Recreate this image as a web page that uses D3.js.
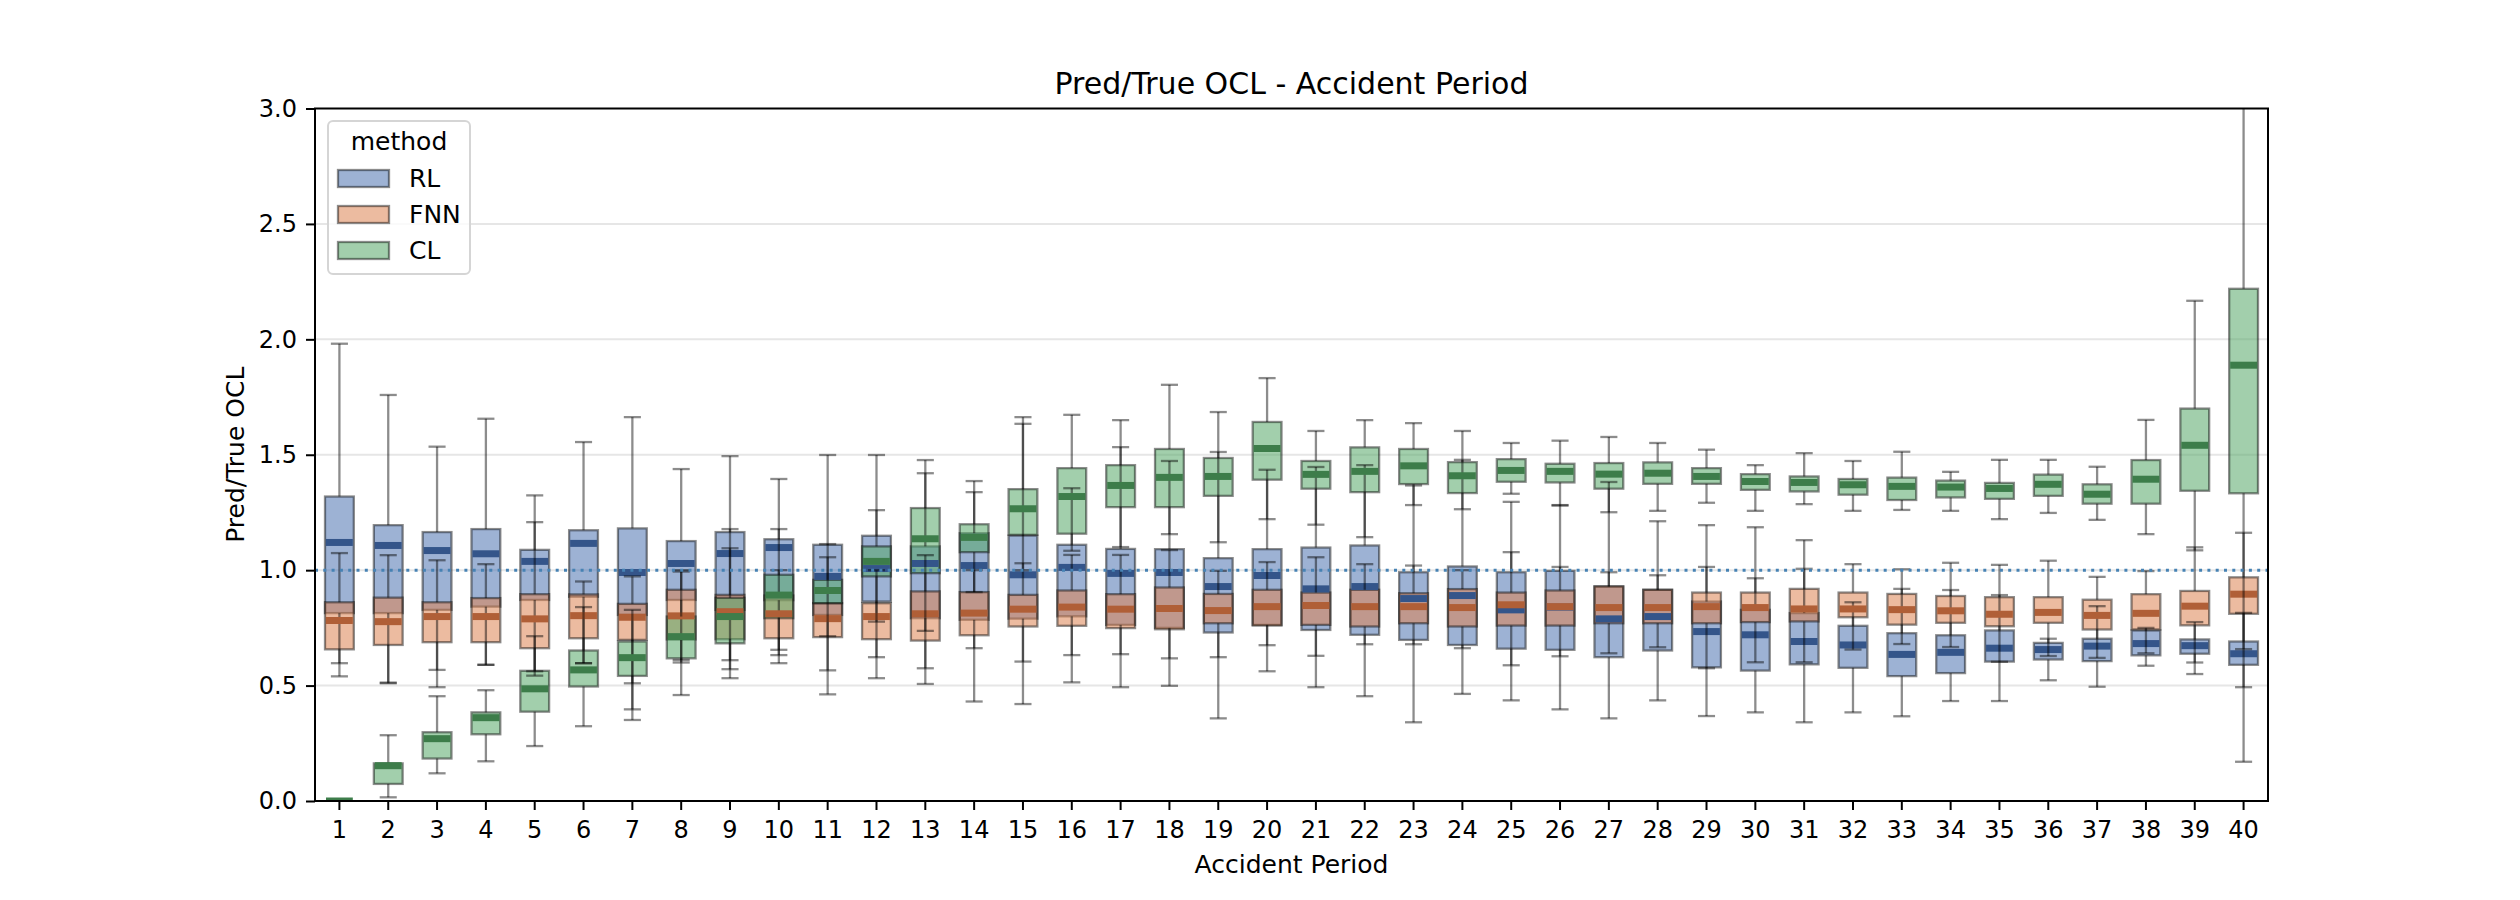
<!DOCTYPE html>
<html><head><meta charset="utf-8">
<script src="https://cdn.jsdelivr.net/npm/d3@7"></script>
<style>body{margin:0;background:#fff} text{font-family:"DejaVu Sans",sans-serif;fill:#000}</style>
</head><body><svg id="chart" width="2520" height="900"></svg>
<script>
const periods = [1,2,3,4,5,6,7,8,9,10,11,12,13,14,15,16,17,18,19,20,21,22,23,24,25,26,27,28,29,30,31,32,33,34,35,36,37,38,39,40];
const yTicks = [0.0,0.5,1.0,1.5,2.0,2.5,3.0];
const methodNames = ["RL","FNN","CL"];

// RL
const rlLow  = [0.540,0.513,0.493,0.590,0.543,0.597,0.397,0.600,0.532,0.597,0.462,0.532,0.507,0.431,0.420,0.514,0.493,0.499,0.358,0.562,0.493,0.454,0.341,0.464,0.436,0.397,0.358,0.436,0.368,0.384,0.341,0.384,0.367,0.433,0.433,0.523,0.495,0.586,0.550,0.493];
const rlQ1   = [0.814,0.814,0.828,0.842,0.871,0.885,0.806,0.871,0.828,0.870,0.806,0.864,0.792,0.785,0.790,0.800,0.763,0.750,0.730,0.763,0.741,0.720,0.698,0.676,0.660,0.655,0.623,0.652,0.579,0.565,0.592,0.577,0.541,0.554,0.604,0.613,0.606,0.631,0.638,0.590];
const rlMed  = [1.120,1.107,1.085,1.071,1.038,1.116,0.990,1.029,1.072,1.098,0.973,1.007,1.029,1.020,0.980,1.012,0.986,0.990,0.929,0.977,0.919,0.929,0.877,0.890,0.828,0.840,0.789,0.799,0.734,0.720,0.691,0.676,0.635,0.644,0.662,0.656,0.671,0.682,0.673,0.638];
const rlQ3   = [1.319,1.195,1.165,1.178,1.088,1.173,1.181,1.126,1.165,1.134,1.110,1.149,1.103,1.160,1.150,1.110,1.092,1.091,1.052,1.091,1.098,1.107,0.991,1.016,0.991,0.997,0.929,0.915,0.864,0.828,0.814,0.759,0.727,0.718,0.739,0.685,0.703,0.739,0.700,0.691];
const rlHigh = [1.981,1.759,1.535,1.656,1.324,1.555,1.663,1.438,1.494,1.395,1.499,1.499,1.420,1.386,1.634,1.355,1.533,1.473,1.512,1.435,1.447,1.455,1.367,1.478,1.296,1.282,1.382,1.212,1.195,1.186,1.130,0.861,0.919,0.914,0.892,0.703,0.844,0.750,0.775,0.815];

// FNN
const fnnLow  = [0.597,0.510,0.568,0.590,0.562,0.597,0.510,0.611,0.571,0.632,0.566,0.623,0.575,0.662,0.604,0.632,0.636,0.618,0.623,0.675,0.629,0.679,0.679,0.662,0.588,0.627,0.640,0.666,0.575,0.601,0.601,0.656,0.680,0.667,0.603,0.628,0.620,0.640,0.600,0.658];
const fnnQ1   = [0.657,0.676,0.688,0.688,0.662,0.705,0.698,0.700,0.701,0.705,0.710,0.701,0.695,0.718,0.756,0.759,0.749,0.744,0.770,0.760,0.763,0.756,0.770,0.756,0.760,0.760,0.770,0.770,0.770,0.775,0.778,0.796,0.764,0.772,0.757,0.772,0.743,0.743,0.761,0.811];
const fnnMed  = [0.782,0.777,0.799,0.799,0.789,0.803,0.796,0.802,0.820,0.811,0.790,0.799,0.811,0.814,0.831,0.840,0.831,0.834,0.825,0.842,0.847,0.842,0.842,0.838,0.850,0.842,0.838,0.838,0.842,0.838,0.832,0.832,0.829,0.824,0.809,0.817,0.804,0.813,0.844,0.896];
const fnnQ3   = [0.861,0.881,0.861,0.879,0.896,0.895,0.854,0.915,0.893,0.890,0.857,0.857,0.908,0.905,0.893,0.912,0.896,0.925,0.897,0.915,0.903,0.915,0.900,0.918,0.903,0.912,0.930,0.915,0.903,0.903,0.919,0.903,0.897,0.888,0.883,0.883,0.872,0.896,0.910,0.969];
const fnnHigh = [1.074,1.065,1.043,1.026,1.208,0.951,0.973,1.000,1.178,1.000,1.113,1.000,1.065,1.000,1.030,1.066,1.066,1.087,0.997,1.035,1.056,1.026,1.020,1.000,1.078,1.014,0.991,0.978,1.014,0.965,1.006,1.026,1.004,1.032,1.023,1.041,0.971,0.996,1.099,1.162];

// CL
const clLow  = [0.000,0.016,0.120,0.172,0.238,0.324,0.351,0.459,0.610,0.655,0.714,0.777,0.737,0.905,1.000,1.084,1.100,1.156,1.121,1.221,1.197,1.143,1.282,1.264,1.331,1.280,1.251,1.257,1.292,1.257,1.286,1.257,1.261,1.257,1.221,1.248,1.218,1.156,1.086,0.170];
const clQ1   = [0.000,0.074,0.184,0.289,0.387,0.496,0.542,0.618,0.683,0.792,0.857,0.973,0.987,1.078,1.153,1.158,1.273,1.273,1.322,1.392,1.353,1.338,1.373,1.334,1.383,1.380,1.353,1.374,1.374,1.348,1.341,1.327,1.304,1.315,1.309,1.322,1.288,1.288,1.344,1.333];
const clMed  = [0.000,0.153,0.270,0.361,0.486,0.568,0.621,0.712,0.799,0.892,0.912,1.038,1.136,1.142,1.266,1.319,1.367,1.402,1.406,1.527,1.415,1.428,1.452,1.409,1.432,1.428,1.416,1.420,1.406,1.384,1.380,1.370,1.363,1.360,1.354,1.372,1.329,1.394,1.541,1.888];
const clQ3   = [0.000,0.163,0.298,0.384,0.564,0.652,0.691,0.799,0.880,0.980,0.958,1.103,1.269,1.199,1.351,1.442,1.455,1.525,1.486,1.642,1.473,1.532,1.525,1.468,1.481,1.461,1.464,1.467,1.442,1.416,1.406,1.395,1.401,1.388,1.378,1.414,1.372,1.477,1.700,2.219];
const clHigh = [0.000,0.285,0.454,0.480,0.714,0.840,0.828,0.994,1.095,1.178,1.056,1.260,1.477,1.338,1.663,1.673,1.650,1.803,1.685,1.832,1.603,1.650,1.637,1.603,1.551,1.561,1.577,1.551,1.522,1.455,1.507,1.473,1.513,1.426,1.478,1.478,1.448,1.651,2.167,3.200];

const fills   = ["#4c72b0","#dd8452","#55a868"];
const medCols = ["#34558a","#b05f37","#3d7d4a"];

const stats = [
  [rlLow, rlQ1, rlMed, rlQ3, rlHigh],
  [fnnLow, fnnQ1, fnnMed, fnnQ3, fnnHigh],
  [clLow, clQ1, clMed, clQ3, clHigh]
];
const methods = methodNames.map((name,i)=>({
  name, fill: fills[i], med: medCols[i],
  rows: periods.map((p,j)=>({p, low:stats[i][0][j], q1:stats[i][1][j], med:stats[i][2][j], q3:stats[i][3][j], high:stats[i][4][j]}))
}));

const W=2520, H=900;
const L=315, R=2268, T=108.5, B=801;
const svg = d3.select("#chart");
svg.append("rect").attr("width",W).attr("height",H).attr("fill","#fff");

const x = d3.scaleBand().domain(periods).range([L,R]).padding(0);
const y = d3.scaleLinear().domain([0,3]).range([B,T]);
const bw = x.bandwidth()*0.59;
const cw = x.bandwidth()*0.35;
const cx = p => x(p) + x.bandwidth()/2;

svg.append("defs").append("clipPath").attr("id","clip")
  .append("rect").attr("x",L).attr("y",T).attr("width",R-L).attr("height",B-T);

// grid
svg.append("g").selectAll("line").data(yTicks.filter(d=>d>0&&d<3)).join("line")
  .attr("x1",L).attr("x2",R).attr("y1",d=>y(d)).attr("y2",d=>y(d))
  .attr("stroke","#e6e6e6").attr("stroke-width",2);

const plot = svg.append("g").attr("clip-path","url(#clip)");
const EDGE = "#000", EOP = 0.45, LW = 2.3;

// boxes (patches first)
methods.forEach(m=>{
  plot.append("g").selectAll("rect").data(m.rows).join("rect")
    .attr("x",d=>cx(d.p)-bw/2).attr("width",bw)
    .attr("y",d=>y(d.q3)).attr("height",d=>Math.max(0,y(d.q1)-y(d.q3)))
    .attr("fill",m.fill).attr("fill-opacity",0.55)
    .attr("stroke",EDGE).attr("stroke-opacity",EOP).attr("stroke-width",LW);
});
// lines
methods.forEach(m=>{
  const g = plot.append("g");
  g.selectAll("line.wh").data(m.rows).join("line").attr("class","wh")
    .attr("x1",d=>cx(d.p)).attr("x2",d=>cx(d.p)).attr("y1",d=>y(d.q3)).attr("y2",d=>y(d.high))
    .attr("stroke",EDGE).attr("stroke-opacity",EOP).attr("stroke-width",LW);
  g.selectAll("line.wl").data(m.rows).join("line").attr("class","wl")
    .attr("x1",d=>cx(d.p)).attr("x2",d=>cx(d.p)).attr("y1",d=>y(d.q1)).attr("y2",d=>y(d.low))
    .attr("stroke",EDGE).attr("stroke-opacity",EOP).attr("stroke-width",LW);
  g.selectAll("line.ch").data(m.rows).join("line").attr("class","ch")
    .attr("x1",d=>cx(d.p)-cw/2).attr("x2",d=>cx(d.p)+cw/2).attr("y1",d=>y(d.high)).attr("y2",d=>y(d.high))
    .attr("stroke",EDGE).attr("stroke-opacity",EOP).attr("stroke-width",LW);
  g.selectAll("line.cl").data(m.rows).join("line").attr("class","cl")
    .attr("x1",d=>cx(d.p)-cw/2).attr("x2",d=>cx(d.p)+cw/2).attr("y1",d=>y(d.low)).attr("y2",d=>y(d.low))
    .attr("stroke",EDGE).attr("stroke-opacity",EOP).attr("stroke-width",LW);
  g.selectAll("line.md").data(m.rows).join("line").attr("class","md")
    .attr("x1",d=>cx(d.p)-bw/2+1).attr("x2",d=>cx(d.p)+bw/2-1).attr("y1",d=>y(d.med)).attr("y2",d=>y(d.med))
    .attr("stroke",m.med).attr("stroke-width",7);
});

// reference line at 1
svg.append("line").attr("x1",L).attr("x2",R).attr("y1",y(1)).attr("y2",y(1))
  .attr("stroke","#4682b4").attr("stroke-width",3).attr("stroke-dasharray","3 5.3");

// axes
const ya = svg.append("g").attr("transform",`translate(${L},0)`)
  .call(d3.axisLeft(y).tickValues(yTicks).tickFormat(d3.format(".1f")).tickSize(9).tickPadding(9));
const xa = svg.append("g").attr("transform",`translate(0,${B})`)
  .call(d3.axisBottom(x).tickSize(9).tickPadding(11));
[ya,xa].forEach(a=>{
  a.select(".domain").remove();
  a.selectAll(".tick line").attr("stroke","#000").attr("stroke-width",2);
  a.selectAll(".tick text").style("font-size","24px").style("font-family","DejaVu Sans").attr("fill","#000");
});

// spines
svg.append("rect").attr("x",L).attr("y",T).attr("width",R-L).attr("height",B-T)
  .attr("fill","none").attr("stroke","#000").attr("stroke-width",2);

// labels
svg.append("text").attr("x",(L+R)/2).attr("y",94).attr("text-anchor","middle")
  .style("font-size","30px").text("Pred/True OCL - Accident Period");
svg.append("text").attr("x",(L+R)/2).attr("y",873).attr("text-anchor","middle")
  .style("font-size","25px").text("Accident Period");
svg.append("text").attr("transform",`translate(244,${(T+B)/2}) rotate(-90)`).attr("text-anchor","middle")
  .style("font-size","25px").text("Pred/True OCL");

// legend
const lg = svg.append("g");
lg.append("rect").attr("x",328).attr("y",121).attr("width",142).attr("height",153).attr("rx",5)
  .attr("fill","#fff").attr("fill-opacity",0.8).attr("stroke","#d5d5d5").attr("stroke-width",2);
lg.append("text").attr("x",399).attr("y",150).attr("text-anchor","middle").style("font-size","25px").text("method");
const legRows = methods.map((m,i)=>({m, i}));
lg.selectAll("rect.sw").data(legRows).join("rect").attr("class","sw")
  .attr("x",338).attr("y",d=>170+d.i*36).attr("width",51).attr("height",17)
  .attr("fill",d=>d.m.fill).attr("fill-opacity",0.55)
  .attr("stroke",EDGE).attr("stroke-opacity",EOP).attr("stroke-width",LW);
lg.selectAll("text.lb").data(legRows).join("text").attr("class","lb")
  .attr("x",409).attr("y",d=>187+d.i*36).style("font-size","25px").text(d=>d.m.name);
</script></body></html>
